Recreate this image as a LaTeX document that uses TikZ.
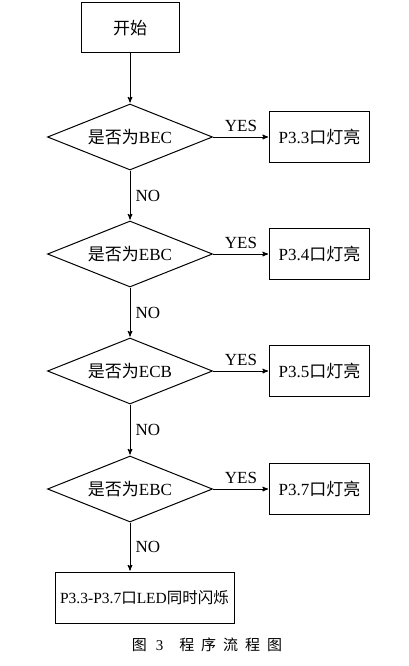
\documentclass[tikz,border=0pt]{standalone}
\usepackage{fontspec}
\setmainfont{Liberation Serif}
\newfontfamily\cjk{Noto Sans CJK SC}
\newcommand{\zh}[1]{{\cjk #1}}
\usetikzlibrary{arrows,shapes.geometric,positioning}

\begin{document}
\begin{tikzpicture}[>=stealth',shorten >=1pt,auto,x=1pt,y=1pt,node distance=117pt,
  line width=1pt,font=\fontsize{17}{20}\selectfont,
  start node/.style={rectangle,draw,minimum width=98pt,minimum height=50pt},
  test node/.style={diamond,draw,aspect=2.5,inner sep=0pt,minimum width=165pt,minimum height=66pt},
  lamp node/.style={rectangle,draw,minimum width=100pt,minimum height=51pt},
  flash node/.style={rectangle,draw,minimum width=179pt,minimum height=51pt,inner sep=1pt,
    font=\fontsize{15.5}{18}\selectfont}]

  \useasboundingbox (0,0) rectangle (408,-666);

  \node[start node] (1) at (130,-28) {\zh{开始}};
  \node[test node] (2) [below of=1,node distance=109pt] {\zh{是否为}BEC};
  \node[test node] (3) [below of=2] {\zh{是否为}EBC};
  \node[test node] (4) [below of=3] {\zh{是否为}ECB};
  \node[test node] (5) [below of=4,node distance=118pt] {\zh{是否为}EBC};
  \node[lamp node] (6) [node distance=189.5pt,right of=2] {P3.3\zh{口灯亮}};
  \node[lamp node] (7) [node distance=189.5pt,right of=3] {P3.4\zh{口灯亮}};
  \node[lamp node] (8) [node distance=189.5pt,right of=4] {P3.5\zh{口灯亮}};
  \node[lamp node] (9) [node distance=189.5pt,right of=5] {P3.7\zh{口灯亮}};
  \node[flash node] (10) [below of=5,node distance=108.5pt,xshift=14.5pt]
    {P3.3-P3.7\zh{口}LED\zh{同时闪烁}};
  \coordinate (11) at (5.south |- 10.north);

  \node (12) at (207,-645) {\fontsize{15}{18}\selectfont
    \zh{图}\hspace{9pt}3\hspace{16pt}\zh{程}\hspace{7pt}\zh{序}\hspace{7pt}\zh{流}\hspace{7pt}\zh{程}\hspace{7pt}\zh{图}};

  \path[every node/.style={inner sep=5pt}]
    (1) edge[->] (2)
    (2) edge[->] node {YES} (6)
    (2) edge[->] node {NO} (3)
    (3) edge[->] node {YES} (7)
    (3) edge[->] node {NO} (4)
    (4) edge[->] node {YES} (8)
    (4) edge[->] node {NO} (5)
    (5) edge[->] node {YES} (9)
    (5.south) edge[->] node {NO} (11);
\end{tikzpicture}
\end{document}
